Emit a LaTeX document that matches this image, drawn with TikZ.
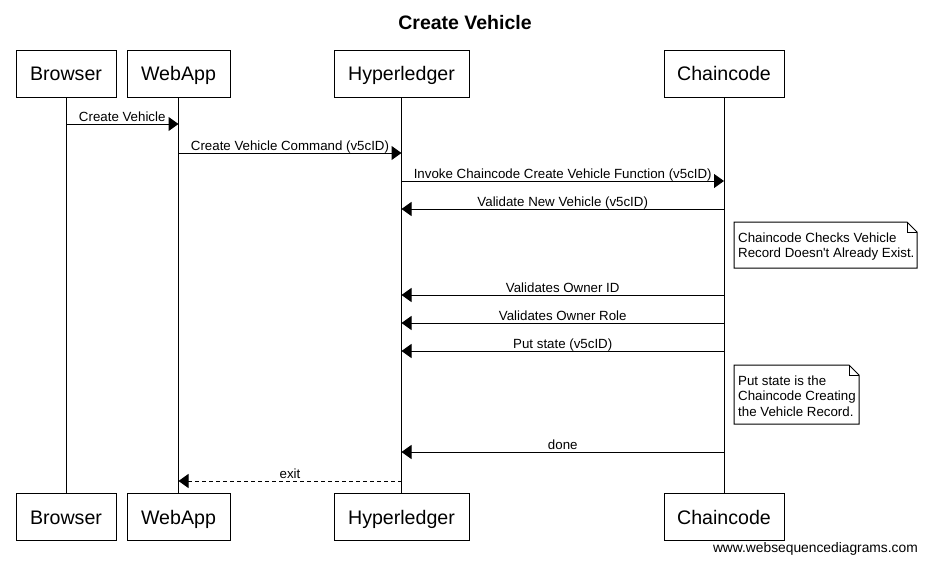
\documentclass[tikz,border=0pt]{standalone}
\usepackage{fontspec}
\setmainfont{Liberation Sans}
\usetikzlibrary{arrows.meta}

\tikzset{
	actor/.style={draw, line width=1pt, minimum height=47, inner sep=0pt,
		text height=14pt, text depth=0pt, font=\fontsize{19.6}{23}\selectfont},
	msg/.style={line width=1pt, -{Triangle[length=10pt,width=14pt]}},
	reply/.style={msg, dash pattern=on 4pt off 3pt},
	lbl/.style={above=2.5pt, inner sep=0pt, text depth=0pt, font=\fontsize{13.3}{16}\selectfont},
	notebox/.style={draw, line width=1pt, fill=white},
	notetext/.style={anchor=north west, inner sep=0pt, align=left, font=\fontsize{13.3}{15.5}\selectfont},
}

\begin{document}
\begin{tikzpicture}[x=1pt, y=-1pt]
	\useasboundingbox[fill=white] (0,0) rectangle (927,563);
	
	% Title
	\node[anchor=base, font=\bfseries\fontsize{19.5}{23}\selectfont] (title) at (465,29) {Create Vehicle};
	
	% Participants at top and bottom, joined by their lifelines
	\foreach \n/\x/\w/\t in {brw/66/100/Browser, web/178.5/103/WebApp, hyp/401.5/135/Hyperledger, cha/724/120/Chaincode} {
		\node[actor, minimum width=\w] (\n-top) at (\x,73.5) {\t};
		\node[actor, minimum width=\w] (\n-bot) at (\x,517) {\t};
		\draw[line width=1pt] (\n-top) -- (\n-bot);
	}
	
	% Messages between lifelines
	\foreach \y/\a/\b/\t in {124/brw/web/{Create Vehicle},
		153/web/hyp/{Create Vehicle Command (v5cID)},
		181/hyp/cha/{Invoke Chaincode Create Vehicle Function (v5cID)},
		209/cha/hyp/{Validate New Vehicle (v5cID)},
		295/cha/hyp/{Validates Owner ID},
		323/cha/hyp/{Validates Owner Role},
		351/cha/hyp/{Put state (v5cID)},
		452/cha/hyp/{done}} {
		\draw[msg] (\a-top |- 0,\y) -- node[lbl] {\t} (\b-top |- 0,\y);
	}
	
	% Dashed return
	\draw[reply] (hyp-top |- 0,481) -- node[lbl] {exit} (web-top |- 0,481);
	
	% Notes beside Chaincode
	\draw[notebox] (734,222) -- (907,222) -- (917,232) -- (917,268) -- (734,268) -- cycle;
	\draw[line width=1pt] (907,222) -- (907,232) -- (917,232);
	\node[notetext] (note1) at (738,232.5) {Chaincode Checks Vehicle\\Record Doesn\textquotesingle t Already Exist.};
	
	\draw[notebox] (734,365) -- (849,365) -- (859,375) -- (859,424) -- (734,424) -- cycle;
	\draw[line width=1pt] (849,365) -- (849,375) -- (859,375);
	\node[notetext] (note2) at (738,375.5) {Put state is the\\Chaincode Creating\\the Vehicle Record.};
	
	% Watermark
	\node[anchor=base east, inner sep=0pt, font=\fontsize{13.8}{16}\selectfont] (wsd) at (918,552) {www.websequencediagrams.com};
	
\end{tikzpicture}
\end{document}
